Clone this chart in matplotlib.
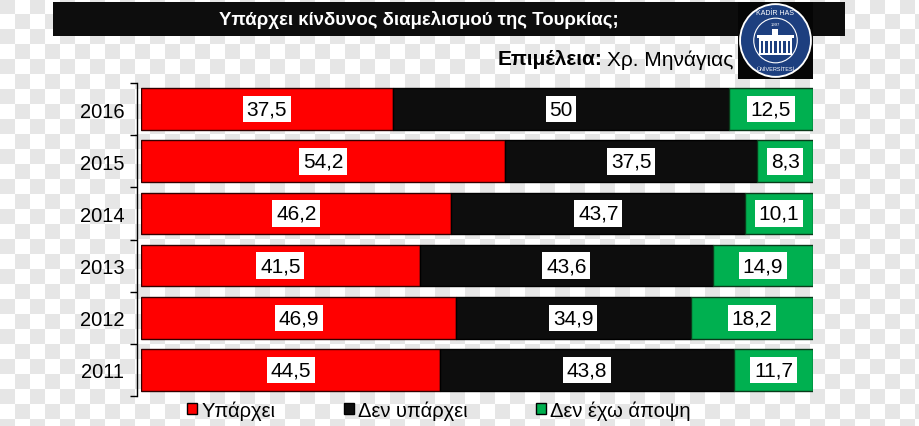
import numpy as np
import matplotlib
matplotlib.use("Agg")
import matplotlib.pyplot as plt
from matplotlib.patches import Rectangle, Circle

# ---- data ----
years = ["2016", "2015", "2014", "2013", "2012", "2011"]
yes_vals = [37.5, 54.2, 46.2, 41.5, 46.9, 44.5]
no_vals = [50, 37.5, 43.7, 43.6, 34.9, 43.8]
noop_vals = [12.5, 8.3, 10.1, 14.9, 18.2, 11.7]
series_names = ["Υπάρχει", "Δεν υπάρχει", "Δεν έχω άποψη"]
colors = ["#ff0000", "#0d0d0d", "#00b050"]
title = "Υπάρχει κίνδυνος διαμελισμού της Τουρκίας;"

plt.rcParams['font.family'] = ['Liberation Sans', 'DejaVu Sans']

W, H = 920, 427
fig = plt.figure(figsize=(W / 100, H / 100), dpi=100)
fig.patch.set_facecolor("white")

# transparent-png checkerboard backdrop
yy, xx = np.mgrid[0:H, 0:W]
chk = (((yy // 15) + (xx // 15)) % 2 == 0)
bg = np.where(chk[..., None], 0.902, 1.0) * np.ones((H, W, 3))
fig.figimage(bg, xo=0, yo=0, origin='upper', zorder=-10)

def fx(px):
    return px / W

def fy(py):
    return 1 - py / H

# title bar
fig.patches.append(Rectangle((fx(53), fy(37)), fx(845) - fx(53), fy(3) - fy(37),
                             transform=fig.transFigure, facecolor="#0d0d0d",
                             edgecolor="none", zorder=1))
fig.text(fx(419), fy(20), title, color="white", fontsize=13.4, fontweight="bold",
         ha="center", va="center", zorder=3)

# logo
ax_logo = fig.add_axes([fx(738), fy(80), fx(813) - fx(738), fy(3) - fy(80)], zorder=5)
ax_logo.set_xlim(-1, 1)
ax_logo.set_ylim(-1, 1)
ax_logo.axis("off")
ax_logo.add_patch(Rectangle((-1, -1), 2, 2, facecolor="#050505", edgecolor="none"))
ax_logo.add_patch(Circle((0, 0.0), 0.97, facecolor="white", edgecolor="none"))
ax_logo.add_patch(Circle((0, 0.0), 0.92, facecolor="#1d3f7f", edgecolor="none"))
ax_logo.add_patch(Circle((0, 0.0), 0.58, facecolor="#1d3f7f", edgecolor="white", linewidth=0.8))
ax_logo.add_patch(Rectangle((-0.45, -0.38), 0.9, 0.45, facecolor="white", edgecolor="none"))
for k in range(-3, 4):
    ax_logo.add_patch(Rectangle((k * 0.12 - 0.035, -0.32), 0.07, 0.3, facecolor="#1d3f7f", edgecolor="none"))
ax_logo.add_patch(Rectangle((-0.5, 0.07), 1.0, 0.06, facecolor="white", edgecolor="none"))
ax_logo.add_patch(Rectangle((-0.08, 0.13), 0.16, 0.18, facecolor="white", edgecolor="none"))
ax_logo.text(0, 0.72, "KADİR HAS", color="white", fontsize=5, ha="center", va="center")
ax_logo.text(0, 0.42, "1997", color="white", fontsize=3, ha="center", va="center")
ax_logo.text(0, -0.72, "ÜNİVERSİTESİ", color="white", fontsize=4, ha="center", va="center")

# subtitle
t2 = fig.text(fx(733), fy(60), "Χρ. Μηνάγιας", fontsize=15, ha="right", va="center")
fig.canvas.draw()
bb = t2.get_window_extent()
fig.text(bb.x0 / W - 0.005, fy(60), "Επιμέλεια:", fontsize=15, fontweight="bold",
         ha="right", va="center")

# main axes
ax = fig.add_axes([fx(141), fy(397), fx(813) - fx(141), fy(84) - fy(397)])
ax.set_facecolor("none")
ypos = np.arange(len(years))
left = np.zeros(len(years))
all_vals = [yes_vals, no_vals, noop_vals]
edgecols = ["#330000", "#000000", "#0a3a1a"]
for vals, col, name, ec in zip(all_vals, colors, series_names, edgecols):
    vals = np.array(vals, dtype=float)
    ax.barh(ypos, vals, left=left, height=0.8, color=col, edgecolor=ec,
            linewidth=1.0, label=name)
    for y, v, l in zip(ypos, vals, left):
        ax.text(l + v / 2, y, f"{v:g}".replace(".", ","), ha="center", va="center",
                fontsize=15, color="black",
                bbox=dict(boxstyle="square,pad=0.18", facecolor="white", edgecolor="none"))
    left = left + vals

ax.set_xlim(0, 100)
ax.set_ylim(len(years) - 0.5, -0.5)
ax.set_yticks(ypos)
ax.set_yticklabels(years)
ax.set_yticks(np.arange(-0.5, len(years), 1.0), minor=True)
ax.tick_params(axis="y", which="major", length=0, pad=9, labelsize=14.5)
ax.tick_params(axis="y", which="minor", length=5, direction="out", width=1)
ax.set_xticks([])
for s in ["top", "right", "bottom"]:
    ax.spines[s].set_visible(False)
ax.spines["left"].set_position(("outward", 3))
ax.spines["left"].set_linewidth(1)

handles = [Rectangle((0, 0), 1, 1, facecolor=c, edgecolor="black", linewidth=1) for c in colors]
fig.legend(handles, series_names, loc="center", bbox_to_anchor=(fx(439), fy(411)),
           ncol=3, frameon=False, fontsize=14.5, handlelength=0.5, handleheight=0.5,
           handletextpad=0.2, columnspacing=3.4, borderaxespad=0, borderpad=0)

fig.savefig("out.png", dpi=100)
